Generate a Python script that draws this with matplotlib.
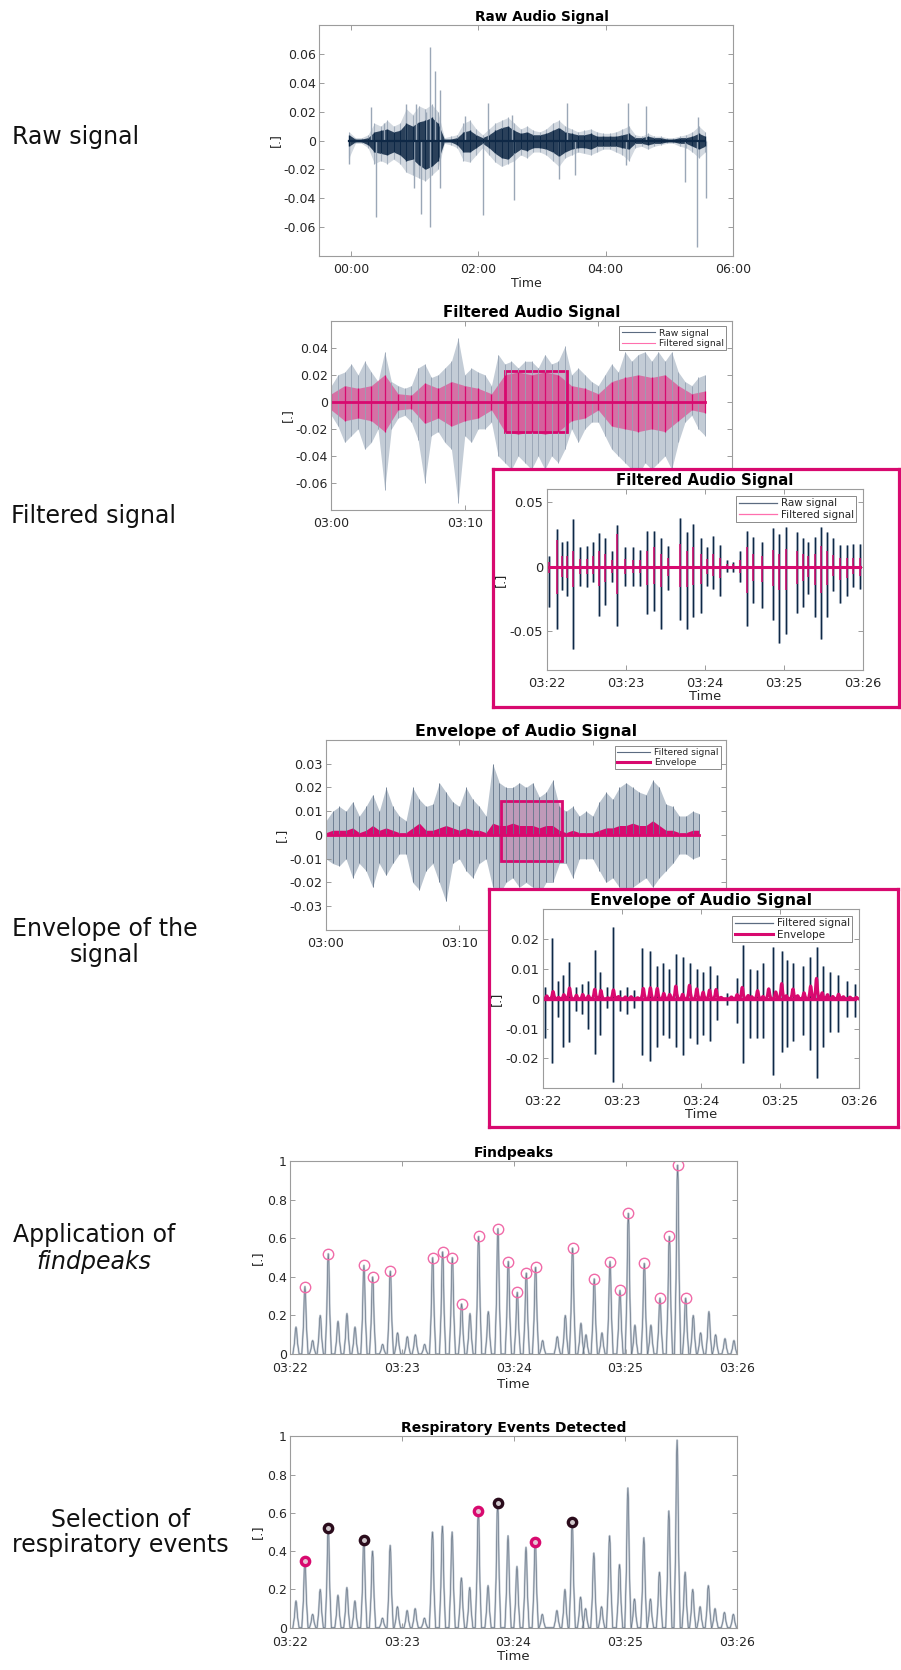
import matplotlib
matplotlib.use("Agg")
import matplotlib.pyplot as plt
from matplotlib.lines import Line2D
from matplotlib.patches import Rectangle
import numpy as np

W, H = 901, 1670

NAVY = "#0e2846"
SLATE = "#5b6b80"
PINK = "#d8096f"
PINK_LT = "#ff6fae"
TXT = "#262626"

# ---------------- raw signal (seconds from start) ----------------
raw_t = list(range(-2, 335, 6))
raw_core_hi = [0.004, 0.001, 0.001, 0.002, 0.006, 0.007, 0.008, 0.006, 0.007, 0.012,
               0.010, 0.013, 0.014, 0.016, 0.012, 0.001, 0.001, 0.002, 0.006, 0.007,
               0.004, 0.002, 0.004, 0.007, 0.009, 0.010, 0.007, 0.005, 0.006, 0.004,
               0.004, 0.005, 0.007, 0.009, 0.006, 0.005, 0.004, 0.004, 0.005, 0.003,
               0.003, 0.003, 0.003, 0.004, 0.005, 0.002, 0.002, 0.003, 0.002, 0.002,
               0.001, 0.001, 0.002, 0.002, 0.003, 0.005, 0.003]
raw_core_lo = [-0.004, -0.001, -0.001, -0.003, -0.008, -0.009, -0.010, -0.008, -0.010, -0.014,
               -0.013, -0.017, -0.020, -0.018, -0.014, -0.001, -0.001, -0.003, -0.008, -0.008,
               -0.005, -0.002, -0.005, -0.009, -0.012, -0.013, -0.009, -0.006, -0.007, -0.005,
               -0.005, -0.006, -0.008, -0.011, -0.008, -0.006, -0.005, -0.005, -0.006, -0.004,
               -0.004, -0.004, -0.004, -0.005, -0.006, -0.002, -0.002, -0.003, -0.002, -0.002,
               -0.001, -0.001, -0.002, -0.002, -0.004, -0.006, -0.004]
raw_band_hi = [0.006, 0.002, 0.002, 0.004, 0.012, 0.010, 0.014, 0.010, 0.012, 0.022,
               0.018, 0.024, 0.022, 0.025, 0.020, 0.002, 0.003, 0.004, 0.012, 0.014,
               0.008, 0.004, 0.008, 0.012, 0.014, 0.016, 0.012, 0.008, 0.010, 0.007,
               0.006, 0.008, 0.012, 0.014, 0.010, 0.008, 0.006, 0.007, 0.008, 0.006,
               0.005, 0.005, 0.006, 0.008, 0.010, 0.004, 0.003, 0.005, 0.003, 0.003,
               0.002, 0.002, 0.003, 0.004, 0.006, 0.010, 0.006]
raw_band_lo = [-0.012, -0.002, -0.002, -0.005, -0.016, -0.014, -0.016, -0.013, -0.016, -0.022,
               -0.024, -0.026, -0.028, -0.024, -0.020, -0.002, -0.003, -0.005, -0.014, -0.015,
               -0.010, -0.005, -0.010, -0.015, -0.018, -0.016, -0.014, -0.010, -0.012, -0.008,
               -0.008, -0.010, -0.014, -0.018, -0.012, -0.010, -0.008, -0.009, -0.010, -0.008,
               -0.006, -0.006, -0.008, -0.010, -0.014, -0.005, -0.004, -0.006, -0.004, -0.003,
               -0.002, -0.002, -0.004, -0.005, -0.008, -0.012, -0.008]
raw_spk_t = [19.2, 31.5, 52.0, 61.4, 70.9, 74.3, 79.4, 83.8, 107.0, 129.5, 152.0, 203.8,
             260.8, 277.8, 327.3, -2.2, 23.6, 59.2, 66.2, 74.3, 83.8, 124.4, 153.4, 196.2,
             211.0, 259.2, 315.0, 326.0, 334.8]
raw_spk_v = [0.0235, 0.012, 0.025, 0.025, 0.020, 0.065, 0.048, 0.035, 0.017, 0.026, 0.018, 0.026,
             0.026, 0.024, 0.016, -0.016, -0.053, -0.033, -0.051, -0.060, -0.033, -0.052, -0.041,
             -0.027, -0.024, -0.017, -0.029, -0.074, -0.040]

# ---------------- filtered signal, 30 s window ----------------
filt_t = np.arange(0, 28.5, 0.5)
filt_hi = [0.012, 0.020, 0.022, 0.028, 0.020, 0.030, 0.022, 0.015, 0.037, 0.015,
           0.012, 0.010, 0.012, 0.025, 0.028, 0.018, 0.020, 0.025, 0.030, 0.047,
           0.020, 0.025, 0.022, 0.020, 0.012, 0.035, 0.028, 0.030, 0.025, 0.030,
           0.030, 0.025, 0.035, 0.028, 0.030, 0.041, 0.020, 0.025, 0.020, 0.015,
           0.012, 0.020, 0.028, 0.022, 0.037, 0.030, 0.035, 0.037, 0.030, 0.037,
           0.030, 0.037, 0.022, 0.015, 0.012, 0.018, 0.020]
filt_lo = [-0.010, -0.018, -0.030, -0.025, -0.020, -0.035, -0.030, -0.020, -0.065, -0.020,
           -0.012, -0.010, -0.015, -0.028, -0.060, -0.025, -0.022, -0.030, -0.035, -0.075,
           -0.025, -0.030, -0.020, -0.020, -0.015, -0.040, -0.045, -0.050, -0.040, -0.045,
           -0.050, -0.040, -0.050, -0.040, -0.045, -0.035, -0.020, -0.030, -0.020, -0.015,
           -0.015, -0.025, -0.035, -0.040, -0.045, -0.050, -0.055, -0.045, -0.050, -0.045,
           -0.040, -0.050, -0.030, -0.015, -0.010, -0.020, -0.025]
filt_pk_t = list(range(0, 29))
filt_pk_hi = [0.006, 0.012, 0.010, 0.012, 0.020, 0.006, 0.005, 0.014, 0.010, 0.015,
              0.012, 0.010, 0.006, 0.020, 0.022, 0.020, 0.022, 0.020, 0.012, 0.010,
              0.006, 0.015, 0.018, 0.020, 0.018, 0.020, 0.012, 0.006, 0.008]
filt_pk_lo = [-0.006, -0.014, -0.012, -0.014, -0.022, -0.006, -0.005, -0.016, -0.012, -0.018,
              -0.014, -0.012, -0.006, -0.022, -0.024, -0.022, -0.024, -0.022, -0.014, -0.012,
              -0.006, -0.018, -0.020, -0.022, -0.020, -0.022, -0.014, -0.006, -0.008]
filt_box = [13.05, 17.65, -0.0225, 0.023]

# ---------------- filtered signal, zoom 03:22-03:26 (minutes) ----------------
ins_t = [0.03, 0.127, 0.198, 0.262, 0.338, 0.422, 0.506, 0.591, 0.658, 0.743, 0.823, 0.895,
         0.987, 1.089, 1.181, 1.274, 1.359, 1.447, 1.536, 1.688, 1.772, 1.857, 1.949, 2.034,
         2.110, 2.194, 2.278, 2.363, 2.447, 2.532, 2.616, 2.722, 2.861, 2.945, 3.025, 3.165,
         3.249, 3.312, 3.397, 3.468, 3.544, 3.629, 3.713, 3.797, 3.882, 3.966]
ins_up = [0.008, 0.029, 0.019, 0.020, 0.037, 0.015, 0.016, 0.019, 0.026, 0.022, 0.012, 0.032,
          0.015, 0.015, 0.013, 0.028, 0.028, 0.022, 0.016, 0.038, 0.027, 0.033, 0.022, 0.015,
          0.024, 0.017, 0.005, 0.004, 0.012, 0.028, 0.023, 0.019, 0.030, 0.025, 0.031, 0.027,
          0.022, 0.019, 0.023, 0.031, 0.027, 0.022, 0.017, 0.017, 0.018, 0.018]
ins_dn = [-0.031, -0.048, -0.018, -0.023, -0.064, -0.015, -0.016, -0.012, -0.038, -0.030, -0.012, -0.046,
          -0.015, -0.015, -0.015, -0.037, -0.034, -0.048, -0.018, -0.041, -0.048, -0.039, -0.036, -0.015,
          -0.017, -0.023, -0.004, -0.004, -0.012, -0.046, -0.028, -0.032, -0.041, -0.059, -0.052, -0.036,
          -0.031, -0.021, -0.039, -0.056, -0.039, -0.019, -0.028, -0.023, -0.016, -0.017]
ins_pk_up = [0.004, 0.021, 0.008, 0.008, 0.012, 0.006, 0.006, 0.008, 0.012, 0.010, 0.005, 0.025,
             0.006, 0.005, 0.005, 0.012, 0.015, 0.010, 0.007, 0.018, 0.012, 0.015, 0.010, 0.006,
             0.010, 0.007, 0.002, 0.002, 0.005, 0.015, 0.010, 0.008, 0.013, 0.010, 0.014, 0.012,
             0.010, 0.008, 0.010, 0.016, 0.012, 0.009, 0.007, 0.007, 0.007, 0.007]
ins_pk_dn = [-0.005, -0.021, -0.008, -0.009, -0.016, -0.006, -0.006, -0.006, -0.015, -0.012, -0.005, -0.021,
             -0.006, -0.005, -0.005, -0.014, -0.013, -0.016, -0.007, -0.016, -0.016, -0.014, -0.013, -0.006,
             -0.007, -0.009, -0.002, -0.002, -0.005, -0.020, -0.011, -0.012, -0.015, -0.018, -0.018, -0.013,
             -0.011, -0.008, -0.014, -0.020, -0.014, -0.007, -0.010, -0.009, -0.006, -0.007]

# ---------------- envelope, 30 s window ----------------
env_hi = [0.006, 0.010, 0.012, 0.010, 0.014, 0.008, 0.012, 0.017, 0.010, 0.020,
          0.012, 0.008, 0.006, 0.020, 0.015, 0.012, 0.013, 0.022, 0.018, 0.014,
          0.012, 0.020, 0.015, 0.012, 0.008, 0.030, 0.022, 0.020, 0.020, 0.022,
          0.020, 0.022, 0.016, 0.018, 0.023, 0.012, 0.010, 0.012, 0.008, 0.010,
          0.008, 0.014, 0.018, 0.015, 0.020, 0.022, 0.020, 0.018, 0.017, 0.023,
          0.020, 0.013, 0.012, 0.008, 0.008, 0.010, 0.009]
env_lo = [-0.010, -0.012, -0.013, -0.010, -0.018, -0.012, -0.015, -0.022, -0.012, -0.017,
          -0.012, -0.008, -0.008, -0.020, -0.023, -0.015, -0.012, -0.020, -0.028, -0.012,
          -0.010, -0.015, -0.018, -0.012, -0.010, -0.022, -0.025, -0.020, -0.018, -0.022,
          -0.020, -0.022, -0.025, -0.020, -0.020, -0.012, -0.012, -0.018, -0.010, -0.010,
          -0.010, -0.015, -0.020, -0.018, -0.022, -0.025, -0.022, -0.020, -0.018, -0.022,
          -0.018, -0.015, -0.012, -0.008, -0.008, -0.010, -0.009]
env_main = [0.001, 0.002, 0.002, 0.002, 0.003, 0.001, 0.002, 0.004, 0.002, 0.003,
            0.002, 0.001, 0.001, 0.003, 0.005, 0.002, 0.002, 0.003, 0.004, 0.003,
            0.002, 0.003, 0.002, 0.002, 0.001, 0.005, 0.004, 0.004, 0.005, 0.004,
            0.004, 0.004, 0.003, 0.004, 0.004, 0.002, 0.001, 0.002, 0.001, 0.001,
            0.001, 0.002, 0.003, 0.003, 0.004, 0.004, 0.005, 0.004, 0.004, 0.006,
            0.004, 0.002, 0.002, 0.001, 0.001, 0.002, 0.002]
env_box = [13.1, 17.7, -0.011, 0.0145]

# ---------------- envelope, zoom 03:22-03:26 ----------------
env_ins_t = [0.03, 0.122, 0.198, 0.262, 0.338, 0.422, 0.494, 0.578, 0.658, 0.726, 0.810, 0.890,
             0.979, 1.063, 1.156, 1.262, 1.359, 1.443, 1.519, 1.603, 1.688, 1.781, 1.865, 1.949,
             2.034, 2.118, 2.211, 2.329, 2.456, 2.540, 2.624, 2.709, 2.793, 2.920, 3.025, 3.089,
             3.173, 3.291, 3.384, 3.468, 3.553, 3.637, 3.743, 3.848, 3.954]
env_ins_up = [0.004, 0.0205, 0.006, 0.008, 0.0125, 0.004, 0.005, 0.006, 0.0165, 0.009, 0.004, 0.024,
              0.003, 0.004, 0.003, 0.017, 0.016, 0.011, 0.012, 0.010, 0.015, 0.014, 0.012, 0.010,
              0.009, 0.011, 0.008, 0.002, 0.007, 0.018, 0.010, 0.0095, 0.012, 0.0175, 0.016, 0.013,
              0.012, 0.011, 0.014, 0.0175, 0.011, 0.009, 0.008, 0.006, 0.005]
env_ins_dn = [-0.013, -0.0215, -0.006, -0.016, -0.0145, -0.004, -0.005, -0.010, -0.0185, -0.012, -0.003, -0.028,
              -0.004, -0.005, -0.003, -0.019, -0.021, -0.016, -0.012, -0.013, -0.016, -0.019, -0.013, -0.015,
              -0.012, -0.014, -0.007, -0.002, -0.008, -0.0215, -0.013, -0.013, -0.013, -0.0255, -0.018, -0.016,
              -0.014, -0.012, -0.017, -0.0265, -0.016, -0.011, -0.011, -0.006, -0.006]
env_peak_amp = 0.007   # envelope amplitude matching normalised value 1

# ---------------- normalised envelope peaks (minutes after 03:22) ----------------
peak_t = [0.131, 0.340, 0.659, 0.737, 0.895, 1.274, 1.363, 1.450, 1.533, 1.685, 1.858, 1.951, 2.031,
          2.112, 2.195, 2.526, 2.720, 2.861, 2.950, 3.025, 3.168, 3.308, 3.392, 3.466, 3.538]
peak_h = [0.35, 0.52, 0.46, 0.40, 0.43, 0.50, 0.53, 0.50, 0.26, 0.61, 0.65, 0.48, 0.32,
          0.42, 0.45, 0.55, 0.39, 0.48, 0.33, 0.73, 0.47, 0.29, 0.61, 0.98, 0.29]
small_t = [0.051, 0.200, 0.268, 0.427, 0.507, 0.579, 0.826, 0.960, 1.047, 1.119, 1.202, 1.608, 1.772,
           2.258, 2.389, 2.461, 2.601, 2.646, 2.789, 3.084, 3.227, 3.606, 3.672, 3.746, 3.806, 3.890, 3.970]
small_h = [0.14, 0.07, 0.20, 0.17, 0.21, 0.14, 0.05, 0.11, 0.09, 0.10, 0.05, 0.21, 0.22,
           0.07, 0.09, 0.20, 0.16, 0.10, 0.11, 0.15, 0.15, 0.20, 0.11, 0.22, 0.10, 0.08, 0.07]
sel_pink = [0, 9, 14]
sel_dark = [1, 2, 10, 15]

zoom_ticks = [0, 1, 2, 3, 4]
zoom_labels = ["03:22", "03:23", "03:24", "03:25", "03:26"]

# bump outline used to draw each peak of the envelope curve
bump_dx = [-0.028, -0.014, -0.005, 0.0, 0.005, 0.014, 0.028]
bump_fy = [0.0, 0.40, 0.92, 1.0, 0.92, 0.40, 0.0]


def bump_curve(ts, hs, scale=1.0):
    order = np.argsort(ts)
    xs, ys = [], []
    for i in order:
        xs += [ts[i] + d for d in bump_dx]
        ys += [hs[i] * f * scale for f in bump_fy]
    return xs, ys


all_t = peak_t + small_t
all_h = peak_h + small_h

fig = plt.figure(figsize=(W / 100, H / 100), dpi=100)


def add_ax(l, t, r, b, z=1):
    return fig.add_axes([l / W, 1 - b / H, (r - l) / W, (b - t) / H], zorder=z)


def style(ax, fs, ypad=2.5, xpad=5):
    for s in ax.spines.values():
        s.set_color("#9c9c9c")
        s.set_linewidth(0.8)
    ax.tick_params(direction="in", length=3.5, width=0.6, color="#8c8c8c",
                   top=True, right=True, labelsize=fs, labelcolor=TXT)
    ax.tick_params(axis="y", pad=ypad)
    ax.tick_params(axis="x", pad=xpad)


def legend(ax, handles, labels, fs):
    lg = ax.legend(handles, labels, loc="upper right", fontsize=fs, frameon=True,
                   fancybox=False, framealpha=1, edgecolor="#8a8a8a", borderpad=0.25,
                   labelspacing=0.15, handlelength=3.6, handletextpad=0.4,
                   borderaxespad=0.6)
    lg.get_frame().set_linewidth(0.7)
    for t in lg.get_texts():
        t.set_color(TXT)
    return lg


def wave(ax, t, lo, hi, fill_c, line_c, lw=0.6, alpha=1.0):
    # dense signal: filled band with one stroke per sample for texture
    ax.fill_between(t, lo, hi, color=fill_c, lw=0, alpha=alpha)
    ax.vlines(t, lo, hi, color=line_c, lw=lw)


def frame(l, t, r, b):
    fr = add_ax(l, t, r, b, z=3)
    fr.set_xticks([])
    fr.set_yticks([])
    for s in fr.spines.values():
        s.set_color(PINK)
        s.set_linewidth(2.3)
    return fr


# ---------------- left-hand captions ----------------
cap = dict(fontsize=17, color="#111111", va="center")
fig.text(11.7 / W, 1 - 136.7 / H, "Raw signal", ha="left", **cap)
fig.text(10.6 / W, 1 - 516.5 / H, "Filtered signal", ha="left", **cap)
fig.text(105 / W, 1 - 929 / H, "Envelope of the", ha="center", **cap)
fig.text(105 / W, 1 - 955 / H, "signal", ha="center", **cap)
fig.text(94 / W, 1 - 1235 / H, "Application of", ha="center", **cap)
fig.text(94 / W, 1 - 1262 / H, "findpeaks", ha="center", style="italic", **cap)
fig.text(121 / W, 1 - 1520 / H, "Selection of", ha="center", **cap)
fig.text(120 / W, 1 - 1545 / H, "respiratory events", ha="center", **cap)

# ---------------- 1. raw signal ----------------
ax1 = add_ax(319.3, 25.3, 732.7, 255.7)
wave(ax1, raw_t, raw_band_lo, raw_band_hi, "#d3d9e0", "#a3afbd", lw=0.8)
ax1.vlines(raw_spk_t, 0, raw_spk_v, color="#9aa7b7", lw=1.0)
wave(ax1, raw_t, raw_core_lo, raw_core_hi, "#2a405a", NAVY, lw=1.0)
ax1.plot(raw_t, np.zeros(len(raw_t)), color=NAVY, lw=1.6)
ax1.set_xlim(-30, 360)
ax1.set_ylim(-0.08, 0.08)
ax1.set_xticks([0, 120, 240, 360], ["00:00", "02:00", "04:00", "06:00"])
ax1.set_yticks([-0.06, -0.04, -0.02, 0, 0.02, 0.04, 0.06],
               ["-0.06", "-0.04", "-0.02", "0", "0.02", "0.04", "0.06"])
style(ax1, 9)
ax1.set_title("Raw Audio Signal", fontsize=9.8, fontweight="bold", x=0.538, pad=3)
ax1.set_xlabel("Time", fontsize=9, color=TXT, labelpad=1)
ax1.set_ylabel("[.]", fontsize=9, color=TXT, labelpad=1)

# ---------------- 2. filtered signal ----------------
ax2 = add_ax(331.3, 320.7, 731.7, 510)
wave(ax2, filt_t, filt_lo, filt_hi, "#c3ccd6", "#95a2b3", lw=0.6)
wave(ax2, filt_pk_t, filt_pk_lo, filt_pk_hi, "#e0408b", PINK, lw=0.9, alpha=0.65)
ax2.plot(filt_pk_t, np.zeros(len(filt_pk_t)), color=PINK, lw=2.0)
ax2.add_patch(Rectangle((filt_box[0], filt_box[2]), filt_box[1] - filt_box[0],
                        filt_box[3] - filt_box[2], facecolor=PINK, alpha=0.15, lw=0))
ax2.add_patch(Rectangle((filt_box[0], filt_box[2]), filt_box[1] - filt_box[0],
                        filt_box[3] - filt_box[2], fill=False, edgecolor=PINK, lw=2))
ax2.set_xlim(0, 30)
ax2.set_ylim(-0.08, 0.06)
ax2.set_xticks([0, 10, 20], ["03:00", "03:10", "03:20"])
ax2.set_yticks([-0.06, -0.04, -0.02, 0, 0.02, 0.04],
               ["-0.06", "-0.04", "-0.02", "0", "0.02", "0.04"])
style(ax2, 9)
ax2.set_title("Filtered Audio Signal", fontsize=10.8, fontweight="bold", pad=3)
ax2.set_ylabel("[.]", fontsize=9, color=TXT, labelpad=1)
legend(ax2, [Line2D([], [], color=SLATE, lw=0.8), Line2D([], [], color=PINK_LT, lw=0.8)],
       ["Raw signal", "Filtered signal"], 6.7)

frame(492.7, 469.3, 898.5, 706.7)

ax2i = add_ax(546.7, 489.3, 862.7, 670, z=4)
ax2i.vlines(ins_t, ins_dn, ins_up, color="#b7c1cc", lw=2.2)
ax2i.vlines(ins_t, ins_dn, ins_up, color=NAVY, lw=0.9)
ax2i.vlines(ins_t, ins_pk_dn, ins_pk_up, color=PINK, lw=1.1)
ax2i.plot(ins_t, np.zeros(len(ins_t)), color=PINK, lw=2.2)
ax2i.set_xlim(0, 4)
ax2i.set_ylim(-0.08, 0.06)
ax2i.set_xticks(zoom_ticks, zoom_labels)
ax2i.set_yticks([-0.05, 0, 0.05], ["-0.05", "0", "0.05"])
style(ax2i, 9.4)
ax2i.set_title("Filtered Audio Signal", fontsize=10.8, fontweight="bold", pad=3)
ax2i.set_xlabel("Time", fontsize=9.4, color=TXT, labelpad=0)
ax2i.set_ylabel("[.]", fontsize=9.4, color=TXT, labelpad=2)
legend(ax2i, [Line2D([], [], color=SLATE, lw=0.9), Line2D([], [], color=PINK_LT, lw=0.9)],
       ["Raw signal", "Filtered signal"], 7.5)

# ---------------- 3. envelope ----------------
env_t = filt_t
ax3 = add_ax(326, 740, 726, 930)
wave(ax3, env_t, env_lo, env_hi, "#b9c3ce", "#63758b", lw=0.6)
ax3.fill_between(env_t, 0, env_main, color=PINK, lw=0)
ax3.plot(env_t, np.zeros(len(env_t)), color=PINK, lw=2.0)
ax3.add_patch(Rectangle((env_box[0], env_box[2]), env_box[1] - env_box[0],
                        env_box[3] - env_box[2], facecolor=PINK, alpha=0.22, lw=0))
ax3.add_patch(Rectangle((env_box[0], env_box[2]), env_box[1] - env_box[0],
                        env_box[3] - env_box[2], fill=False, edgecolor=PINK, lw=2))
ax3.set_xlim(0, 30)
ax3.set_ylim(-0.04, 0.04)
ax3.set_xticks([0, 10, 20], ["03:00", "03:10", "03:20"])
ax3.set_yticks([-0.03, -0.02, -0.01, 0, 0.01, 0.02, 0.03],
               ["-0.03", "-0.02", "-0.01", "0", "0.01", "0.02", "0.03"])
style(ax3, 9.2)
ax3.set_title("Envelope of Audio Signal", fontsize=11.3, fontweight="bold", pad=3)
ax3.set_ylabel("[.]", fontsize=9.2, color=TXT, labelpad=1)
legend(ax3, [Line2D([], [], color=SLATE, lw=0.8), Line2D([], [], color=PINK, lw=2.2)],
       ["Filtered signal", "Envelope"], 6.6)

frame(489.3, 889.3, 898.3, 1126.7)

ax3i = add_ax(542.7, 909.3, 858.7, 1088.3, z=4)
ax3i.vlines(env_ins_t, env_ins_dn, env_ins_up, color="#b7c1cc", lw=2.2)
ax3i.vlines(env_ins_t, env_ins_dn, env_ins_up, color=NAVY, lw=0.9)
ex, ey = bump_curve(all_t, all_h, env_peak_amp)
ax3i.plot(ex, ey, color=PINK, lw=2.2)
ax3i.plot(env_ins_t, np.zeros(len(env_ins_t)), color=PINK, lw=2.4)
ax3i.set_xlim(0, 4)
ax3i.set_ylim(-0.03, 0.03)
ax3i.set_xticks(zoom_ticks, zoom_labels)
ax3i.set_yticks([-0.02, -0.01, 0, 0.01, 0.02], ["-0.02", "-0.01", "0", "0.01", "0.02"])
style(ax3i, 9.4)
ax3i.set_title("Envelope of Audio Signal", fontsize=11.3, fontweight="bold", pad=3)
ax3i.set_xlabel("Time", fontsize=9.4, color=TXT, labelpad=0)
ax3i.set_ylabel("[.]", fontsize=9.4, color=TXT, labelpad=2)
legend(ax3i, [Line2D([], [], color=SLATE, lw=0.9), Line2D([], [], color=PINK, lw=2.2)],
       ["Filtered signal", "Envelope"], 7.5)

# ---------------- 4. findpeaks ----------------
px, py = bump_curve(all_t, all_h)
norm_ticks = [0, 0.2, 0.4, 0.6, 0.8, 1]
norm_labels = ["0", "0.2", "0.4", "0.6", "0.8", "1"]

ax4 = add_ax(290.3, 1161.3, 737.3, 1354)
ax4.plot(px, py, color="#c3cad3", lw=1.5)
ax4.plot(px, py, color="#6a7888", lw=0.5)
ax4.plot(peak_t, peak_h, "o", ms=7.5, mfc="none", mec="#f06aa8", mew=1.0)
ax4.set_xlim(0, 4)
ax4.set_ylim(0, 1)
ax4.set_xticks(zoom_ticks, zoom_labels)
ax4.set_yticks(norm_ticks, norm_labels)
style(ax4, 9, xpad=6)
ax4.set_title("Findpeaks", fontsize=10, fontweight="bold", pad=3)
ax4.set_xlabel("Time", fontsize=9.5, color=TXT, labelpad=2)
ax4.set_ylabel("[.]", fontsize=9.5, color=TXT, labelpad=2)

# ---------------- 5. respiratory events ----------------
ax5 = add_ax(290.3, 1436.3, 736.7, 1627.7)
ax5.plot(px, py, color="#c3cad3", lw=1.5)
ax5.plot(px, py, color="#6a7888", lw=0.5)
ax5.plot([peak_t[i] for i in sel_pink], [peak_h[i] for i in sel_pink], "o", ms=6,
         mfc="#e6c3d3", mec=PINK, mew=2.4)
ax5.plot([peak_t[i] for i in sel_dark], [peak_h[i] for i in sel_dark], "o", ms=6,
         mfc="#d0c8cc", mec="#2b0c1c", mew=2.4)
ax5.set_xlim(0, 4)
ax5.set_ylim(0, 1)
ax5.set_xticks(zoom_ticks, zoom_labels)
ax5.set_yticks(norm_ticks, norm_labels)
style(ax5, 9, xpad=6)
ax5.set_title("Respiratory Events Detected", fontsize=10, fontweight="bold", pad=3)
ax5.set_xlabel("Time", fontsize=9.5, color=TXT, labelpad=1)
ax5.set_ylabel("[.]", fontsize=9.5, color=TXT, labelpad=2)

fig.savefig("out.png", dpi=100, facecolor="white")
